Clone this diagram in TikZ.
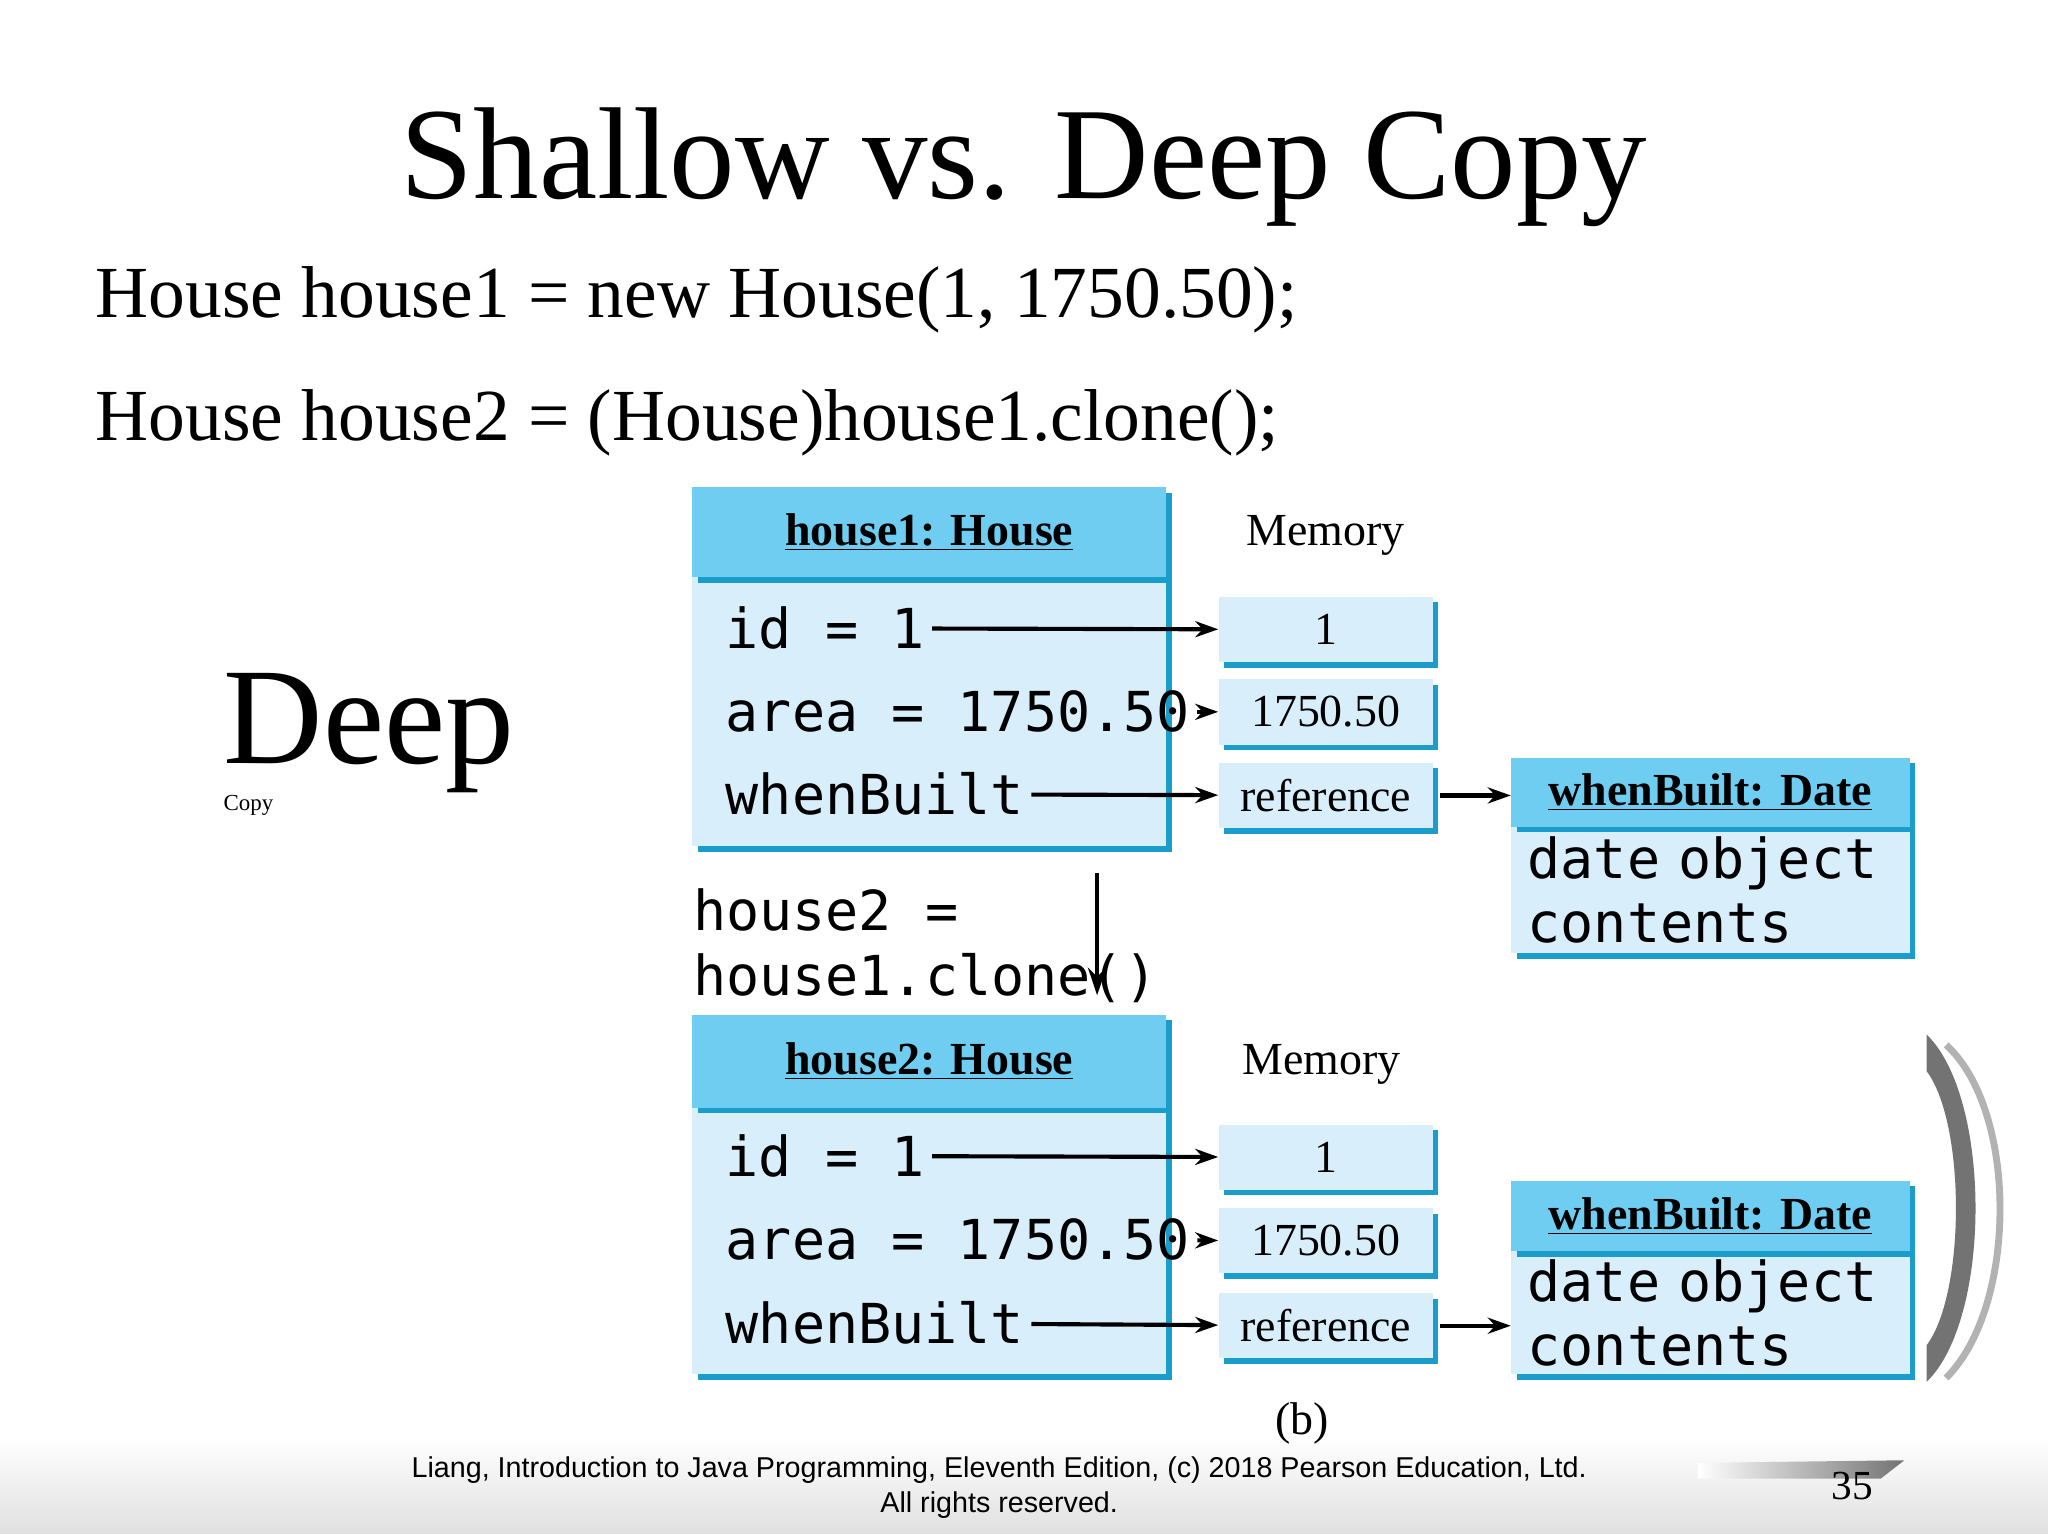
\documentclass[tikz,border=0pt]{standalone}
\usepackage{fontspec}
\setmainfont{Liberation Serif}
\setmonofont{DejaVu Sans Mono}
\newfontfamily\footfont{Liberation Sans}
\usetikzlibrary{shadows,arrows.meta}
\definecolor{bodyblue}{HTML}{D8EFFB}
\definecolor{hdrblue}{HTML}{6FCDF2}
\definecolor{sblue}{HTML}{1A9DCB}
\tikzset{
 bx/.style={fill=bodyblue, inner sep=0pt, drop shadow={shadow xshift=2.4pt, shadow yshift=-2.4pt, fill=sblue, opacity=1}},
 hbx/.style={bx, fill=hdrblue},
 cline/.style={line width=1.8pt, -{Stealth[length=10pt,width=7pt]}},
 fld/.style={anchor=west, font=\ttfamily\fontsize{24}{28}\selectfont, inner sep=3pt},
 memv/.style={bx, minimum width=3.28cm, minimum height=1.0cm, font=\fontsize{20}{24}\selectfont},
 hdr/.style={font=\bfseries\fontsize{20}{24}\selectfont},
 lbl/.style={font=\fontsize{20}{24}\selectfont},
}
\begin{document}
\begin{tikzpicture}[x=0.02cm,y=-0.02cm]
\useasboundingbox (0,0) rectangle (1568,1174);
\shade[top color=white, bottom color=black!12] (0,1100) rectangle (1568,1174);
% decorative arcs
\fill[black!55] (1475,792) arc[start angle=130, end angle=230, radius=0] -- (1475,792) .. controls (1525,840) and (1525,1010) .. (1475,1058) -- (1475,1030) .. controls (1505,990) and (1505,860) .. (1475,820) -- cycle;
\draw[black!30, line width=3pt] (1490,800) .. controls (1545,850) and (1545,1000) .. (1490,1055);
\shade[left color=white, right color=black!55] (1300,1120) -- (1458,1118) -- (1440,1132) -- (1300,1132) -- cycle;
\node (title) at (784,128) {\fontsize{57}{64}\selectfont Shallow vs. Deep Copy};
\node[anchor=base west, inner sep=0pt] (l1) at (73,243) {\fontsize{32}{36}\selectfont House house1 = new House(1, 1750.50);};
\node[anchor=base west, inner sep=0pt] (l2) at (73,337) {\fontsize{32}{36}\selectfont House house2 = (House)house1.clone();};
\node[align=left, anchor=west] (dc) at (165,570) {\fontsize{60}{110}\selectfont Deep\\Copy};
% house1
\node[bx, minimum width=7.26cm, minimum height=4.12cm] (h1b) at (711.5,545) {};
\node[hbx, minimum width=7.26cm, minimum height=1.38cm, hdr] (h1h) at (711.5,407.5) {\underline{house1: House}};
\node[lbl] (mem1) at (1015,410) {Memory};
\node[fld] (f11) at (550,481) {id = 1};
\node[fld] (f12) at (550,545) {area = 1750.50};
\node[fld] (f13) at (550,608) {whenBuilt};
\node[memv] (m11) at (1015,482) {1};
\node[memv] (m12) at (1015,545) {1750.50};
\node[memv] (m13) at (1015,609) {reference};
\node[bx, minimum width=6.1cm, minimum height=1.94cm, font=\ttfamily\fontsize{24}{28}\selectfont, align=left, text width=5.6cm] (d1b) at (1309.5,681.5) {date object\\contents};
\node[hbx, minimum width=6.1cm, minimum height=1.06cm, hdr] (d1h) at (1309.5,606.5) {\underline{whenBuilt: Date}};
\draw[cline] (f11) -- (m11);
\draw[cline] (f12) -- (m12);
\draw[cline] (f13) -- (m13);
\draw[cline] (m13.east) ++(3pt,0) -- (m13.east -| d1h.west);
% clone
\node[fld, align=left, anchor=north west] (cl) at (525,675) {house2 =\\house1.clone()};
\coordinate (ct) at (840,668);
\coordinate (cb) at (840,762);
\draw[line width=1.8pt, -{Stealth[length=12pt,width=8pt]}] (ct) -- (cb);
% house2
\node[bx, minimum width=7.26cm, minimum height=4.08cm] (h2b) at (711.5,950) {};
\node[hbx, minimum width=7.26cm, minimum height=1.42cm, hdr] (h2h) at (711.5,812.5) {\underline{house2: House}};
\node[lbl] (mem2) at (1012,815) {Memory};
\node[fld] (f21) at (550,885) {id = 1};
\node[fld] (f22) at (550,949) {area = 1750.50};
\node[fld] (f23) at (550,1013) {whenBuilt};
\node[memv] (m21) at (1015,886) {1};
\node[memv] (m22) at (1015,950) {1750.50};
\node[memv] (m23) at (1015,1015) {reference};
\node[bx, minimum width=6.1cm, minimum height=1.88cm, font=\ttfamily\fontsize{24}{28}\selectfont, align=left, text width=5.6cm] (d2b) at (1309.5,1005) {date object\\contents};
\node[hbx, minimum width=6.1cm, minimum height=1.08cm, hdr] (d2h) at (1309.5,931) {\underline{whenBuilt: Date}};
\draw[cline] (f21) -- (m21);
\draw[cline] (f22) -- (m22);
\draw[cline] (f23) -- (m23);
\draw[cline] (m23.east) ++(3pt,0) -- (m23.east -| d2b.west);
\node[lbl] (b) at (997,1090) {(b)};
\node[align=center, font=\footfont\fontsize{12.5}{15}\selectfont] (foot) at (765,1139) {Liang, Introduction to Java Programming, Eleventh Edition, (c) 2018 Pearson Education, Ltd.\\All rights reserved.};
\node[font=\fontsize{18}{20}\selectfont] (pg) at (1418,1138) {35};
\end{tikzpicture}
\end{document}
